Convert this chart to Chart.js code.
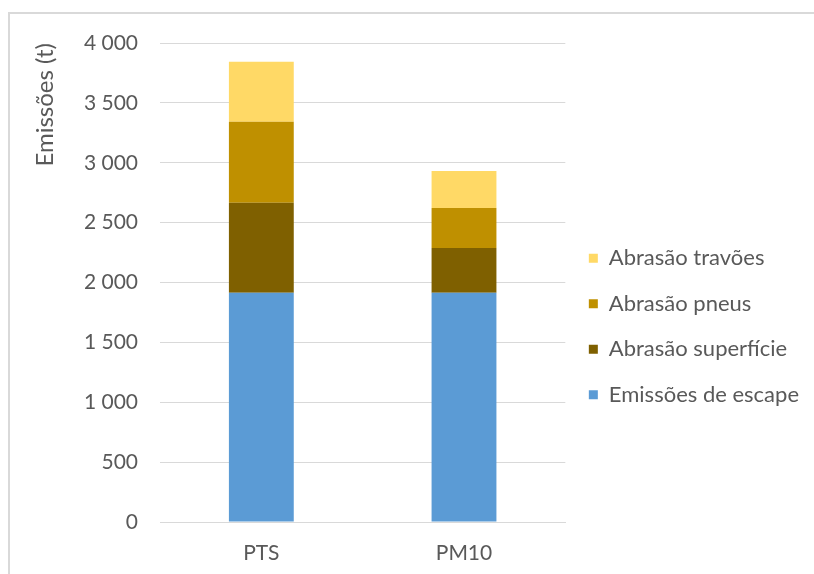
<!DOCTYPE html>
<html>
<head>
<meta charset="utf-8">
<script src="https://cdn.jsdelivr.net/npm/chart.js@4/dist/chart.umd.min.js"></script>
<style>
  html, body { margin: 0; padding: 0; background: #ffffff; overflow: hidden; }
  #frame { position: absolute; left: 8px; top: 12px; width: 900px; height: 700px; border: 2px solid #d9d9d9; }
  #wrap { position: absolute; left: 0; top: 0; width: 814px; height: 574px; }
</style>
</head>
<body>
<div id="frame"></div>
<div id="wrap"><canvas id="c" width="814" height="574"></canvas></div>
<script>
// Categories and stacked series (tonnes)
const categories = ['PTS', 'PM10'];
const emissoesEscape = [1915, 1915];
const abrasaoSuperficie = [750, 373];
const abrasaoPneus = [677, 335];
const abrasaoTravoes = [502, 309];
const yTicks = [0, 500, 1000, 1500, 2000, 2500, 3000, 3500, 4000];

const FONT = 'Lato';
const GREY = '#595959';

const fmt = v => String(v).replace(/\B(?=(\d{3})+(?!\d))/g, ' ');

new Chart(document.getElementById('c'), {
  type: 'bar',
  data: {
    labels: categories,
    datasets: [
      { label: 'Emissões de escape', data: emissoesEscape, backgroundColor: '#5b9bd5' },
      { label: 'Abrasão superfície', data: abrasaoSuperficie, backgroundColor: '#7f6000' },
      { label: 'Abrasão pneus', data: abrasaoPneus, backgroundColor: '#bf9000' },
      { label: 'Abrasão travões', data: abrasaoTravoes, backgroundColor: '#ffd966' }
    ]
  },
  options: {
    responsive: false,
    animation: false,
    events: [],
    datasets: { bar: { categoryPercentage: 0.32, barPercentage: 1, borderWidth: 0 } },
    layout: { padding: { top: 43, left: 0, right: 5, bottom: 0 } },
    scales: {
      x: {
        stacked: true,
        grid: { display: false },
        border: { display: true, color: '#d9d9d9', width: 1 },
        ticks: { color: GREY, font: { family: FONT, size: 21 }, padding: 11 },
        afterFit: s => { s.height = 52; }
      },
      y: {
        stacked: true,
        min: 0,
        max: 4000,
        afterBuildTicks: s => { s.ticks = yTicks.map(v => ({ value: v })); },
        grid: { color: '#d9d9d9', lineWidth: 1, drawTicks: false },
        border: { display: false },
        ticks: { color: GREY, font: { family: FONT, size: 21 }, padding: 22, callback: v => fmt(v) },
        title: {
          display: true,
          text: 'Emissões (t)',
          align: 'end',
          color: GREY,
          font: { family: FONT, size: 24 },
          padding: { top: 31, bottom: 0 }
        },
        afterFit: s => { s.width = 160; }
      }
    },
    plugins: {
      tooltip: { enabled: false },
      legend: {
        position: 'right',
        reverse: true,
        maxWidth: 249,
        title: { display: true, text: '', font: { size: 10 }, padding: { top: 24, bottom: 0 } },
        labels: {
          color: GREY,
          font: { family: FONT, size: 22 },
          boxWidth: 9,
          boxHeight: 9,
          padding: 23.5
        }
      }
    }
  }
});
</script>
</body>
</html>
